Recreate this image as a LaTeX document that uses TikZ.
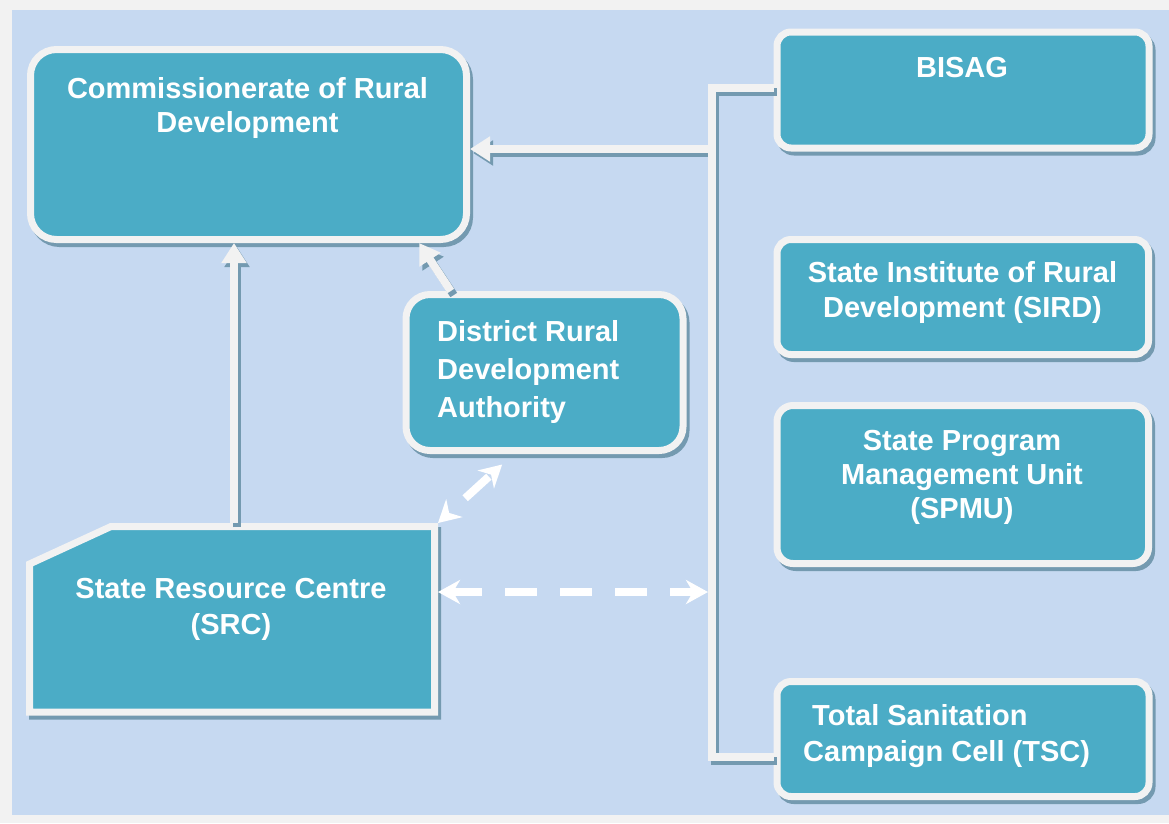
\documentclass[tikz,border=0pt]{standalone}
\usepackage{fontspec}
\setmainfont{Liberation Sans}
\usetikzlibrary{arrows.meta,shadows,calc}

\definecolor{frameGrey}{HTML}{F2F2F2}
\definecolor{panelBlue}{HTML}{C6D9F1}
\definecolor{boxTeal}{HTML}{4BACC6}
\definecolor{shadeBlue}{HTML}{749AB0}

\tikzset{
  box/.style={draw=frameGrey, fill=boxTeal, line width=7pt, rounded corners=#1,
    inner sep=0pt,
    drop shadow={shadow xshift=3pt, shadow yshift=-4pt, opacity=1,
      fill=shadeBlue, draw=shadeBlue, line width=7pt}},
  box/.default=14pt,
  lbl/.style={font=\bfseries\fontsize{29}{#1}\selectfont, text=white,
    align=center, inner sep=0pt, anchor=base},
  lbl/.default=34,
  link/.style={draw=frameGrey, line width=8pt, line join=miter},
  linkshade/.style={draw=shadeBlue, line width=8pt, line join=miter,
    transform canvas={shift={(3pt,-4pt)}}},
  solidtip/.style={-{Triangle[length=20pt,width=24pt]}},
  dlink/.style={draw=white, line width=8pt,
    {Stealth[length=22pt,width=24pt,inset=7pt]}-{Stealth[length=22pt,width=24pt,inset=7pt]}},
}

\begin{document}
\begin{tikzpicture}[x=1pt,y=-1pt]
  % frame and panel
  \fill[frameGrey] (0,0) rectangle (1169,823);
  \fill[panelBlue] (12,10) rectangle (1169,815);
  \useasboundingbox (0,0) rectangle (1169,823);

  % boxes
  \node[box=26pt, minimum width=436pt, minimum height=190pt] (crd) at (248.5,144.5) {};
  \node[box, minimum width=372pt, minimum height=116pt] (bisag) at (963,90) {};
  \node[box, minimum width=371.5pt, minimum height=115pt] (sird) at (962.75,297) {};
  \node[box=16pt, minimum width=371.5pt, minimum height=158pt] (spmu) at (962.75,484.5) {};
  \node[box, minimum width=372pt, minimum height=115pt] (tsc) at (963,739) {};
  \node[box=24pt, minimum width=277pt, minimum height=156pt] (drda) at (544.5,372.5) {};

  % State Resource Centre: outer frame node, outline with a cut top-left corner
  \node[inner sep=0pt, outer sep=0pt, minimum width=412pt, minimum height=192.5pt]
    (src) at (232,619.25) {};
  \draw[box=0pt]
    ($(src.south west)+(3.5,-3.5)$) -- ($(src.north west)+(3.5,41)$)
    -- ($(src.north west)+(85,3.5)$) -- ($(src.north east)+(-3.5,3.5)$)
    -- ($(src.south east)+(-3.5,-3.5)$) -- cycle;

  % box texts (anchored at the baseline of the last line)
  \node[lbl] (crd-t) at (247.5,132) {Commissionerate of Rural\\Development};
  \node[lbl] (bisag-t) at (962,77) {BISAG};
  \node[lbl=35] (sird-t) at (962.5,317) {State Institute of Rural\\Development (SIRD)};
  \node[lbl] (spmu-t) at (962,518) {State Program\\Management Unit\\(SPMU)};
  \node[lbl=36.5, align=left, anchor=base west] (tsc-t) at (803,761.5)
        {\hspace*{9pt}Total Sanitation\\Campaign Cell (TSC)};
  \node[lbl=38, align=left, anchor=base west] (drda-t) at (437,417)
        {District Rural\\Development\\Authority};
  \node[lbl=36] (src-t) at (231,634) {State Resource Centre\\(SRC)};

  % helper points for the connector routes
  \coordinate (xUp) at (234,0);
  \coordinate (bTop) at (712,88);
  \coordinate (bBot) at (712,757);
  \coordinate (bMid) at (712,149);
  \coordinate (dRight) at (708,592);
  \coordinate (dTop) at (513.7,0);

  % connector shadows
  \draw[linkshade, solidtip] (src.north -| xUp) -- (crd.south -| xUp);
  \draw[linkshade, solidtip] (drda.139) -- (crd.-30);
  \draw[linkshade] (bisag.west |- bTop) -- (bTop) -- (bBot) -- (tsc.west |- bBot);
  \draw[linkshade, solidtip] (bMid) -- (crd.east |- bMid);

  % connectors
  \draw[link, solidtip] (src.north -| xUp) -- (crd.south -| xUp);
  \draw[link, solidtip] (drda.139) -- (crd.-30);
  \draw[link] (bisag.west |- bTop) -- (bTop) -- (bBot) -- (tsc.west |- bBot);
  \draw[link, solidtip] (bMid) -- (crd.east |- bMid);

  % dashed two-way links
  \draw[dlink, dash pattern=on 32pt off 23pt, dash phase=2pt]
    (src.east |- dRight) -- (dRight);
  \draw[dlink, dash pattern=on 32pt off 23pt, dash phase=32pt, shorten >=15.6pt]
    (src.north east) -- (drda.south -| dTop);
\end{tikzpicture}
\end{document}
